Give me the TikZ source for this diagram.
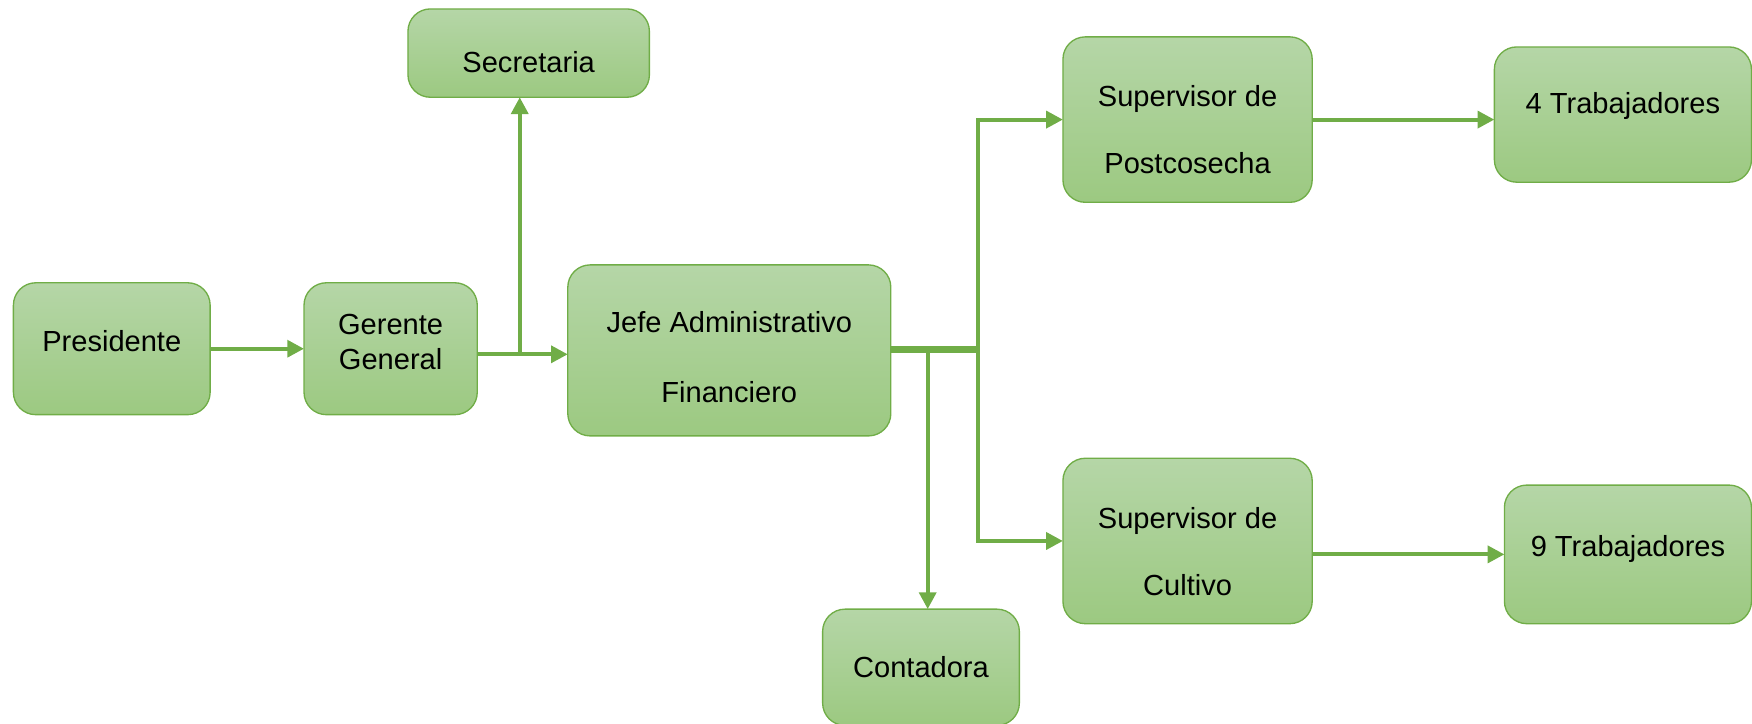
\documentclass[tikz,border=0pt]{standalone}
\usepackage{fontspec}
\setmainfont{Liberation Sans}
\usetikzlibrary{arrows.meta,calc}
\definecolor{boxtop}{HTML}{B5D6A7}
\definecolor{boxbot}{HTML}{9CC981}
\definecolor{gline}{HTML}{70AD47}
\tikzset{
  box/.style={rounded corners=10pt, draw=gline, line width=0.6pt, top color=boxtop, bottom color=boxbot,
    inner sep=0pt, outer sep=0pt},
  txt/.style={inner sep=0pt, align=center, font=\fontsize{13}{15.6}\selectfont},
  arr/.style={draw=gline, line width=1.8pt, -{Triangle[length=7.5pt,width=7.5pt]}},
  thick line/.style={draw=gline, line width=3.2pt}
}
\begin{document}
\begin{tikzpicture}[x=0.5pt,y=-0.5pt]
\useasboundingbox (0,0) rectangle (1567.5,646.9);
\node[box, minimum width=88pt, minimum height=59pt] (pres) at (100,312) {};
\node[box, minimum width=77.5pt, minimum height=59pt] (ger) at (349.5,312) {};
\node[box, minimum width=108pt, minimum height=39.5pt] (sec) at (473,47.5) {};
\node[box, minimum width=144.5pt, minimum height=76.5pt] (jefe) at (652.5,313.5) {};
\node[box, minimum width=111.5pt, minimum height=74pt] (postc) at (1062.5,107) {};
\node[box, minimum width=115pt, minimum height=60.5pt] (trab4) at (1452,102.5) {};
\node[box, minimum width=110.5pt, minimum height=62pt] (trab9) at (1456.5,496) {};
\node[box, minimum width=111.5pt, minimum height=74pt] (cult) at (1062.5,484) {};
\node[box, minimum width=88pt, minimum height=52pt] (cont) at (824,597) {};

\node[txt] (presT) at ($(pres.center)+(0,-7)$) {Presidente};
\node[txt] (gerT) at ($(ger.center)+(0,-6)$) {Gerente\\General};
\node[txt] (secT) at ($(sec.center)+(0,8)$) {Secretaria};
\node[txt] (jefeT) at ($(jefe.center)+(0,6)$) {Jefe Administrativo\\[16pt]Financiero};
\node[txt] (postcT) at ($(postc.center)+(0,9)$) {Supervisor de\\[14pt]Postcosecha};
\node[txt] (trab4T) at ($(trab4.center)+(0,-8)$) {4 Trabajadores};
\node[txt] (trab9T) at ($(trab9.center)+(0,-5)$) {9 Trabajadores};
\node[txt] (cultT) at ($(cult.center)+(0,9.5)$) {Supervisor de\\[14pt]Cultivo};
\node[txt] (contT) at (cont.center) {Contadora};

% connectors
\draw[arr] (pres.east) -- (pres.east -| ger.west);
\coordinate (j1) at (465,317);
\draw[arr] (ger.east |- j1) -- (j1 -| jefe.west);
\draw[arr] (j1) -- (j1 |- sec.south);

\coordinate (j2) at (875,313);
\coordinate (j3) at (830,313);
\draw[thick line] (jefe.east |- j2) -- (j2);
\draw[arr] (j2) |- (postc.west);
\draw[arr] (j2) |- (cult.west);
\draw[arr] (j3) -- (j3 |- cont.north);

\draw[arr] (postc.east) -- (postc.east -| trab4.west);
\draw[arr] (cult.east |- trab9.west) -- (trab9.west);
\end{tikzpicture}
\end{document}
